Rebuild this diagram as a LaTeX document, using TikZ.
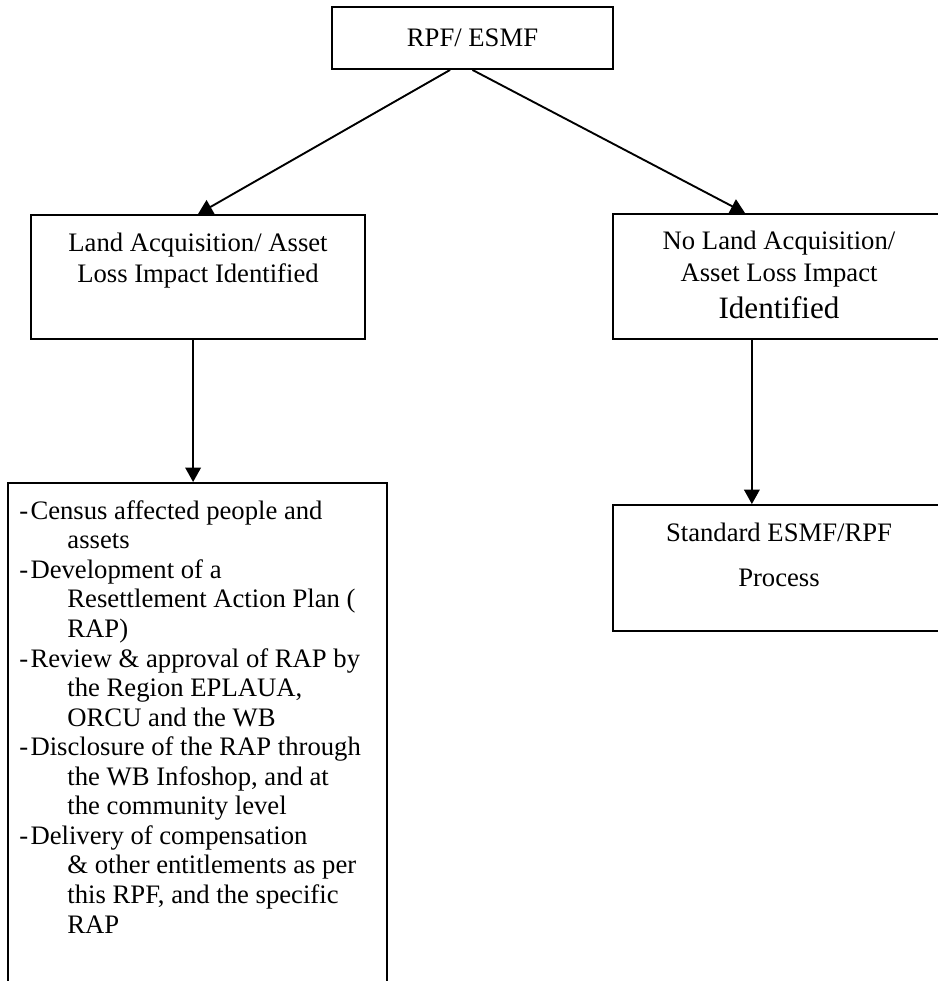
\documentclass[tikz,border=0pt]{standalone}
\usepackage{fontspec}
\setmainfont{Liberation Serif}
\usetikzlibrary{arrows.meta}

\begin{document}
\begin{tikzpicture}[x=0.45pt,y=-0.45pt,
   every node/.style={font=\fontsize{12}{14.2}\selectfont},
   box/.style={draw,line width=0.85pt,inner sep=0pt},
   words/.style={inner sep=0pt,anchor=north},
   link/.style={line width=0.85pt,-{Triangle[length=6.5pt,width=7pt]}}]
   \useasboundingbox (0,0) rectangle (938,981);
   \clip (0,0) rectangle (938,981);
   % boxes
   \node[box,minimum width=126.5pt,minimum height=27.9pt] (rpf) at (472.5,38) {RPF/ ESMF};
   \node[box,minimum width=150.3pt,minimum height=55.8pt] (landbox) at (198,277) {};
   \node[box,minimum width=149.4pt,minimum height=56.3pt] (nobox) at (779,276.5) {};
   \node[box,minimum width=149.4pt,minimum height=56.7pt] (stdbox) at (779,568) {};
   \node[box,minimum width=170.6pt,minimum height=277.7pt] (rapbox) at (197.5,791.5) {};
   % texts
   \node[words,align=center] (landtext) at ([yshift=-8.1pt]landbox.north)
      {Land Acquisition/ Asset\\Loss Impact Identified};
   \node[words,align=center] (notext) at ([yshift=-8.1pt]nobox.north)
      {No Land Acquisition/\\Asset Loss Impact\\[2.5pt]{\fontsize{14}{16}\selectfont Identified}};
   \node[words,align=center] (stdtext) at ([yshift=-8.5pt]stdbox.north)
      {Standard ESMF/RPF\\[6pt]Process};
   \node[words,anchor=north west,align=left,font=\fontsize{12}{13.3}\selectfont] (raptext)
      at ([xshift=5.4pt,yshift=-8.1pt]rapbox.north west)
      {-\hspace{1pt}Census affected people and\\
       \hspace*{21.6pt}assets\\
       -\hspace{1pt}Development of a\\
       \hspace*{21.6pt}Resettlement Action Plan (\\
       \hspace*{21.6pt}RAP)\\
       -\hspace{1pt}Review \& approval of RAP by\\
       \hspace*{21.6pt}the Region EPLAUA,\\
       \hspace*{21.6pt}ORCU and the WB\\
       -\hspace{1pt}Disclosure of the RAP through\\
       \hspace*{21.6pt}the WB Infoshop, and at\\
       \hspace*{21.6pt}the community level\\
       -\hspace{1pt}Delivery of compensation\\
       \hspace*{21.6pt}\& other entitlements as per\\
       \hspace*{21.6pt}this RPF, and the specific\\
       \hspace*{21.6pt}RAP};
   % arrows
   \draw[link] ([xshift=-10.1pt]rpf.south) -- (landbox.north);
   \draw[link] (rpf.south) -- ([xshift=-15.3pt]nobox.north);
   \draw[link] ([xshift=-2.2pt]landbox.south) -- ([xshift=-2.2pt]landbox.south |- rapbox.north);
   \draw[link] ([xshift=-12.2pt]nobox.south) -- ([xshift=-12.2pt]nobox.south |- stdbox.north);
\end{tikzpicture}
\end{document}
